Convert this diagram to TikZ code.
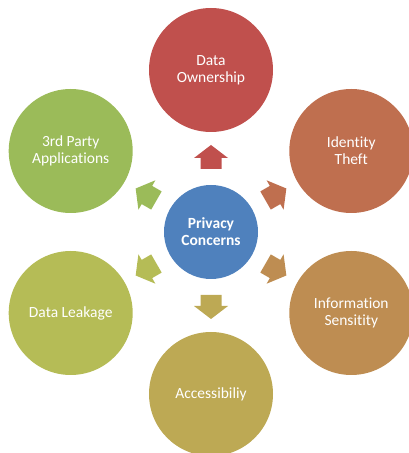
\documentclass[tikz,border=0pt]{standalone}
\usepackage{fontspec}
\setmainfont{Carlito}[Ligatures={NoCommon}]
\usetikzlibrary{calc}
\definecolor{cblue}{HTML}{4F81BD}
\definecolor{c1}{HTML}{C0504D}
\definecolor{c2}{HTML}{BF6F4F}
\definecolor{c3}{HTML}{BE8D52}
\definecolor{c4}{HTML}{BDA954}
\definecolor{c5}{HTML}{B5BC56}
\definecolor{c6}{HTML}{9BBB59}
\newcommand\blkarrow[2]{%
  \fill[#2, rotate around={#1:(c)}] ($(c)+(63,-10.5)$) -- ++(11,0) -- ++(0,-6.5)
    -- ++(13,17) -- ++(-13,17) -- ++(0,-6.5) -- ++(-11,0) -- cycle;}
\begin{document}
\begin{tikzpicture}[x=1pt,y=1pt,
  outer/.style={circle, minimum size=124pt, inner sep=0pt, text=white, align=center,
    font=\fontsize{15.5}{17}\selectfont},
  center/.style={circle, minimum size=94pt, inner sep=0pt, fill=cblue, text=white, align=center,
    font=\fontsize{15.5}{17}\selectfont\bfseries}]
\useasboundingbox (0,0) rectangle (409,453);
\node[center] (c) at (211,221) {Privacy\\Concerns};
\node[outer, fill=c1] (o1) at ($(c)+(90:162)$) {Data\\Ownership};
\node[outer, fill=c2] (o2) at ($(c)+(30:162)$) {Identity\\Theft};
\node[outer, fill=c3] (o3) at ($(c)+(-30:162)$) {Information\\Sensitity};
\node[outer, fill=c4] (o4) at ($(c)+(-90:162)$) {Accessibiliy};
\node[outer, fill=c5] (o5) at ($(c)+(210:162)$) {Data Leakage};
\node[outer, fill=c6] (o6) at ($(c)+(150:162)$) {3rd Party\\Applications};
\blkarrow{90}{c1}
\blkarrow{30}{c2}
\blkarrow{-30}{c3}
\blkarrow{-90}{c4}
\blkarrow{210}{c5}
\blkarrow{150}{c6}
\end{tikzpicture}
\end{document}
